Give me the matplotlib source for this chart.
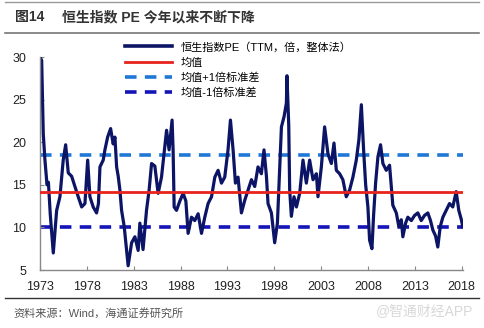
import matplotlib
matplotlib.use("Agg")
import matplotlib.pyplot as plt
from matplotlib.lines import Line2D

plt.rcParams["font.family"] = ["Liberation Sans", "Noto Sans CJK SC"]

# PE of the Hang Seng index (year, value)
years = [1973.0, 1973.18, 1973.35, 1973.53, 1973.75, 1973.9, 1974.1, 1974.42, 1974.78,
         1975.13, 1975.48, 1975.74, 1976.02, 1976.38, 1976.73, 1977.08, 1977.45, 1977.8,
         1978.09, 1978.33, 1978.68, 1979.04, 1979.24, 1979.4, 1979.75, 1979.93, 1980.22,
         1980.54, 1980.81, 1981.0, 1981.18, 1981.35, 1981.53, 1981.71, 1981.99, 1982.24,
         1982.41, 1982.78, 1983.13, 1983.48, 1983.66, 1984.0, 1984.37, 1984.65, 1984.91,
         1985.26, 1985.61, 1985.97, 1986.33, 1986.51, 1986.78, 1987.1, 1987.21, 1987.32,
         1987.57, 1987.93, 1988.28, 1988.57, 1988.81, 1989.17, 1989.52, 1989.88, 1990.24,
         1990.59, 1990.94, 1991.31, 1991.66, 1992.01, 1992.37, 1992.72, 1993.07, 1993.33,
         1993.61, 1993.86, 1994.14, 1994.5, 1994.86, 1995.21, 1995.57, 1995.92, 1996.27,
         1996.63, 1996.91, 1997.17, 1997.34, 1997.7, 1998.05, 1998.34, 1998.59, 1998.77,
         1999.05, 1999.3, 1999.36, 1999.55, 1999.65, 1999.83, 2000.11, 2000.37, 2000.72,
         2001.07, 2001.43, 2001.78, 2002.14, 2002.5, 2002.67, 2003.03, 2003.38, 2003.74,
         2004.1, 2004.38, 2004.63, 2004.98, 2005.33, 2005.69, 2006.05, 2006.4, 2006.76,
         2007.04, 2007.3, 2007.54, 2007.76, 2008.0, 2008.18, 2008.43, 2008.61, 2008.82,
         2009.07, 2009.35, 2009.6, 2009.96, 2010.31, 2010.56, 2010.66, 2011.03, 2011.3,
         2011.56, 2011.73, 2012.02, 2012.26, 2012.63, 2012.98, 2013.33, 2013.69, 2014.04,
         2014.4, 2014.68, 2014.93, 2015.22, 2015.46, 2015.72, 2016.0, 2016.35, 2016.71,
         2017.06, 2017.42, 2017.7, 2017.95, 2018.13]
pe = [30.0, 29.6, 21.0, 17.9, 15.0, 15.3, 11.5, 7.0, 12.0,
      13.6, 17.9, 19.7, 16.4, 16.0, 14.8, 13.6, 12.4, 12.8,
      17.9, 13.6, 12.4, 11.7, 12.8, 17.1, 17.9, 19.1, 20.6,
      21.6, 19.8, 20.6, 17.1, 16.0, 14.4, 12.0, 10.1, 7.3,
      5.5, 8.2, 8.9, 7.3, 10.5, 7.4, 12.0, 14.4, 17.5,
      17.2, 14.0, 15.9, 19.5, 21.4, 19.1, 22.6, 19.0, 12.4,
      12.0, 13.1, 14.0, 13.1, 9.3, 11.2, 10.8, 11.6, 9.3,
      11.2, 12.8, 13.6, 15.9, 16.7, 15.2, 15.9, 19.1, 22.6,
      19.1, 15.2, 15.9, 11.7, 13.2, 14.4, 15.6, 14.8, 17.1,
      16.3, 19.1, 16.0, 12.8, 11.7, 8.2, 10.5, 17.1, 21.8,
      23.0, 24.6, 27.8, 22.0, 14.4, 11.3, 13.6, 12.4, 14.0,
      17.9, 15.2, 17.9, 15.6, 16.3, 13.6, 17.1, 21.8, 18.6,
      17.5, 19.9, 16.7, 16.3, 15.6, 13.6, 14.4, 15.9, 17.9,
      20.3, 24.4, 19.1, 15.0, 12.4, 8.5, 7.5, 11.5, 15.2,
      18.3, 19.7, 17.5, 16.7, 17.3, 14.0, 12.6, 11.7, 10.1,
      10.9, 8.9, 10.5, 11.2, 10.8, 11.4, 11.7, 10.8, 11.4,
      11.7, 10.8, 9.7, 9.0, 7.7, 10.1, 11.2, 12.0, 12.8,
      12.4, 14.2, 12.0, 11.0, 10.1]

mean_pe = 14.2
plus_std = 18.5
minus_std = 10.0

xticks = [1973, 1978, 1983, 1988, 1993, 1998, 2003, 2008, 2013, 2018]
yticks = [5, 10, 15, 20, 25, 30]
labels = ["恒生指数PE（TTM，倍，整体法）", "均值", "均值+1倍标准差", "均值-1倍标准差"]

fig = plt.figure(figsize=(4.84, 3.28), dpi=100)
ax = fig.add_axes([0.0826, 0.1768, 0.875, 0.6494])

c_pe = "#0c1466"
c_mean = "#e8231e"
c_plus = "#1f78d6"
c_minus = "#1414b8"
dash = (0, (3.2, 2.3))

ax.axhline(plus_std, color=c_plus, lw=2.6, ls=dash, zorder=1)
ax.axhline(minus_std, color=c_minus, lw=2.6, ls=dash, zorder=1)
ax.plot(years, pe, color=c_pe, lw=2.3, zorder=2)
ax.axhline(mean_pe, color=c_mean, lw=2.0, zorder=3)

ax.set_xlim(1973, 2018.2)
ax.set_ylim(5, 30)
ax.set_xticks(xticks)
ax.set_yticks(yticks)
ax.tick_params(direction="in", length=3, color="#888888", labelsize=9, labelcolor="#222222")
ax.tick_params(axis="x", pad=8)
ax.tick_params(axis="y", pad=10)
for s in ["top", "right"]:
    ax.spines[s].set_visible(False)
for s in ["left", "bottom"]:
    ax.spines[s].set_color("#888888")
    ax.spines[s].set_linewidth(1.0)

handles = [Line2D([], [], color=c_pe, lw=2.6),
           Line2D([], [], color=c_mean, lw=2.0),
           Line2D([], [], color=c_plus, lw=2.6, ls=dash),
           Line2D([], [], color=c_minus, lw=2.6, ls=dash)]
fig.legend(handles, labels, loc="upper left", bbox_to_anchor=(0.246, 0.89),
           frameon=False, fontsize=8, handlelength=4.3, handletextpad=0.7,
           labelspacing=0.45, borderpad=0)

# title bar and source note
fig.add_artist(Line2D([0.01, 0.99], [0.993, 0.993], color="#999999", lw=1.0))
fig.add_artist(Line2D([0.01, 0.99], [0.90, 0.90], color="#777777", lw=1.2))
fig.text(0.031, 0.948, "图14", fontsize=10, fontweight="bold", va="center", color="#333333")
fig.text(0.128, 0.948, "恒生指数 PE 今年以来不断下降", fontsize=10, fontweight="bold",
         va="center", color="#333333")
fig.add_artist(Line2D([0.01, 0.99], [0.092, 0.092], color="#333333", lw=1.0))
fig.text(0.027, 0.045, "资料来源：Wind，海通证券研究所", fontsize=8, va="center", color="#555555")
fig.text(0.978, 0.05, "@智通财经APP", fontsize=10, va="center", ha="right", color="#d8d8d8")

fig.savefig("out.png", dpi=100, facecolor="white")
